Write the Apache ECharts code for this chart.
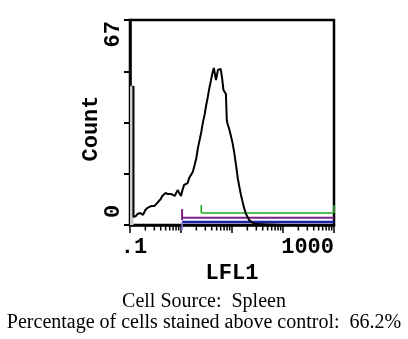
<!DOCTYPE html>
<html>
<head>
<meta charset="utf-8">
<script src="https://cdn.jsdelivr.net/npm/echarts@6/dist/echarts.min.js"></script>
<style>
  html, body { margin: 0; padding: 0; background: #fff; }
  #chart { width: 408px; height: 339px; }
</style>
</head>
<body>
<div id="chart"></div>
<script>
// LFL1 fluorescence histogram of spleen cells (log scale, 4 decades)
const lfl1 = [0.117, 0.117, 0.12, 0.13, 0.14, 0.15, 0.16, 0.17, 0.18, 0.2, 0.22, 0.24, 0.26, 0.28, 0.3,
  0.33, 0.36, 0.4, 0.43, 0.46, 0.5, 0.55, 0.6, 0.65, 0.7, 0.75, 0.8, 0.86, 0.92, 1.0,
  1.07, 1.15, 1.25, 1.35, 1.45, 1.55, 1.7, 1.85, 2.0, 2.15, 2.3, 2.5, 2.7, 2.9, 3.1,
  3.35, 3.6, 3.85, 4.1, 4.4, 4.7, 4.85, 5.0, 5.3, 5.6, 6.0, 6.4, 6.8, 7.2, 7.6,
  7.85, 7.9, 8.2, 8.8, 9.5, 10.2, 11, 12, 13, 14, 15, 16, 17, 18.5, 20,
  22, 25, 30, 50, 100, 300, 1000];
const counts = [45.4, 2.6, 2.6, 2.9, 3.6, 3.9, 3.9, 3.6, 3.3, 4.9, 5.6, 5.2, 6.2, 6.5, 6.2,
  6.9, 7.5, 8.5, 9.5, 9.8, 10.5, 10.1, 9.5, 10.1, 10.1, 9.5, 9.5, 11.4, 11.1, 9.5,
  11.4, 13.1, 13.4, 13.7, 15.4, 16.0, 17.3, 19.6, 21.9, 25.2, 27.5, 30.4, 33.7, 36.0, 38.9,
  41.8, 44.8, 47.1, 49.4, 51.3, 51.0, 47.4, 47.1, 50.7, 51.3, 51.0, 48.0, 44.1, 43.5, 42.8,
  42.2, 34.3, 33.0, 31.4, 29.2, 27.0, 23.9, 19.6, 15.2, 12.3, 9.8, 7.8, 6.0, 3.9, 2.7,
  1.5, 0.8, 0.3, 0.2, 0, 0, 0];

// off-scale events piled into the lowest channel
const firstBinLfl1 = [0.1, 0.117];
const firstBinCount = 45.4;

// axis ticks and labels
const yTickValues = [0, 67];
const yTickLabels = ['0', '67'];
const xMinLabel = '.1';
const xMaxLabel = '1000';
const decades = [0.1, 1, 10, 100];
const minorSteps = [2, 3, 4, 5, 6, 7, 8, 9];

// gate markers (start LFL1, level, marker tick span)
const gateEnd = 1000;
const greenGate = { start: 2.5, level: 3.9, tick: [3.9, 6.5] };
const purpleGate = { start: 1.05, level: 2.4, tick: [1.6, 5.2] };
const blueGate = { start: 1.05, level: 1.0, tick: [1.0, -1.6] };

const monoFont = '"Liberation Mono", "DejaVu Sans Mono", monospace';
const serifFont = '"Liberation Serif", "Times New Roman", serif';

const minorTicks = [];
decades.forEach(d => minorSteps.forEach(s => minorTicks.push([d * s, 0])));

function segment(points, color, width, z) {
  return {
    type: 'line', data: points, symbol: 'none', clip: false, silent: true,
    lineStyle: { color: color, width: width }, z: z, animation: false
  };
}

const chart = echarts.init(document.getElementById('chart'), null, { renderer: 'canvas' });

chart.setOption({
  animation: false,
  backgroundColor: '#fff',
  title: [
    {
      text: 'Cell Source:  Spleen', left: 'center', top: 292, padding: 0,
      textStyle: { fontFamily: serifFont, fontSize: 20, fontWeight: 'normal', color: '#000' }
    },
    {
      text: 'Percentage of cells stained above control:  66.2%', left: 'center', top: 313, padding: 0,
      textStyle: { fontFamily: serifFont, fontSize: 20, fontWeight: 'normal', color: '#000' }
    }
  ],
  grid: {
    left: 130, top: 20, width: 204, height: 205,
    show: true, borderColor: '#000', borderWidth: 2.5, backgroundColor: 'transparent'
  },
  xAxis: {
    type: 'log', logBase: 10, min: 0.1, max: 1000,
    name: 'LFL1', nameLocation: 'middle', nameGap: 28,
    nameTextStyle: { fontFamily: monoFont, fontWeight: 'bold', fontSize: 22, color: '#000' },
    axisLine: { show: true, lineStyle: { color: '#000', width: 2.5 } },
    axisTick: { show: true, length: 8, lineStyle: { color: '#000', width: 1.5 } },
    splitLine: { show: false },
    axisLabel: {
      margin: 11, fontFamily: monoFont, fontWeight: 'bold', fontSize: 22, color: '#000',
      alignMinLabel: 'center', alignMaxLabel: 'right',
      formatter: v => Math.abs(v - 0.1) < 1e-9 ? '{lo|' + xMinLabel + '}'
        : (Math.abs(v - 1000) < 1e-6 ? xMaxLabel : ''),
      rich: {
        lo: { padding: [0, 0, 0, 8], fontFamily: monoFont, fontWeight: 'bold', fontSize: 22, color: '#000' }
      }
    }
  },
  yAxis: {
    type: 'value', min: 0, max: 67, interval: 16.75,
    name: 'Count', nameLocation: 'middle', nameRotate: 90, nameGap: 28,
    nameTextStyle: { fontFamily: monoFont, fontWeight: 'bold', fontSize: 22, color: '#000', padding: [0, 12, 0, 0] },
    axisLine: { show: true, lineStyle: { color: '#000', width: 2.5 } },
    axisTick: { show: true, length: 6, lineStyle: { color: '#000', width: 2 } },
    axisLabel: { show: false },
    splitLine: { show: false }
  },
  series: [
    {
      name: 'first channel', type: 'line', symbol: 'none', silent: true, z: 2,
      data: firstBinLfl1.map(v => [v, firstBinCount]),
      lineStyle: { color: '#777', width: 1 },
      areaStyle: { color: '#cdcdcd', opacity: 1 }
    },
    segment([[greenGate.start, greenGate.level], [gateEnd, greenGate.level]], '#1fa51f', 1.6, 3),
    segment([[greenGate.start, greenGate.tick[0]], [greenGate.start, greenGate.tick[1]]], '#1fa51f', 1.6, 3),
    segment([[gateEnd, greenGate.tick[0]], [gateEnd, greenGate.tick[1]]], '#1fa51f', 1.6, 3),
    segment([[purpleGate.start, purpleGate.level], [gateEnd, purpleGate.level]], '#7d1f88', 2, 3),
    segment([[purpleGate.start, purpleGate.tick[0]], [purpleGate.start, purpleGate.tick[1]]], '#7d1f88', 2, 3),
    segment([[blueGate.start, blueGate.level], [gateEnd, blueGate.level]], '#1e1ea8', 2.5, 3),
    segment([[blueGate.start, blueGate.tick[0]], [blueGate.start, blueGate.tick[1]]], '#8c7de6', 1.5, 3),
    {
      name: 'LFL1', type: 'line', symbol: 'none', silent: true, z: 4,
      data: lfl1.map((v, i) => [v, counts[i]]),
      lineStyle: { color: '#000', width: 2 }
    },
    {
      // minor log ticks under the x axis
      type: 'custom', silent: true, clip: false, z: 5,
      data: minorTicks, encode: { x: 0, y: 1 },
      renderItem: (params, api) => {
        const p = api.coord([api.value(0), api.value(1)]);
        return {
          type: 'line',
          shape: { x1: p[0], y1: p[1], x2: p[0], y2: p[1] + 5.5 },
          style: { stroke: '#000', lineWidth: 1.5 }
        };
      }
    },
    {
      // rotated count labels at the ends of the y axis
      type: 'custom', silent: true, clip: false, z: 5,
      data: yTickValues.map((v, i) => [0.1, v, i]), encode: { x: 0, y: 1 },
      renderItem: (params, api) => {
        const i = api.value(2);
        const p = api.coord([api.value(0), api.value(1)]);
        const isTop = i === yTickValues.length - 1;
        return {
          type: 'text',
          x: p[0] - 17,
          y: isTop ? p[1] + 1 : p[1] - 7,
          rotation: Math.PI / 2,
          style: {
            text: yTickLabels[i],
            font: 'bold 22px ' + monoFont,
            fill: '#000',
            align: isTop ? 'right' : 'left',
            verticalAlign: 'middle'
          }
        };
      }
    }
  ]
});
</script>
</body>
</html>
